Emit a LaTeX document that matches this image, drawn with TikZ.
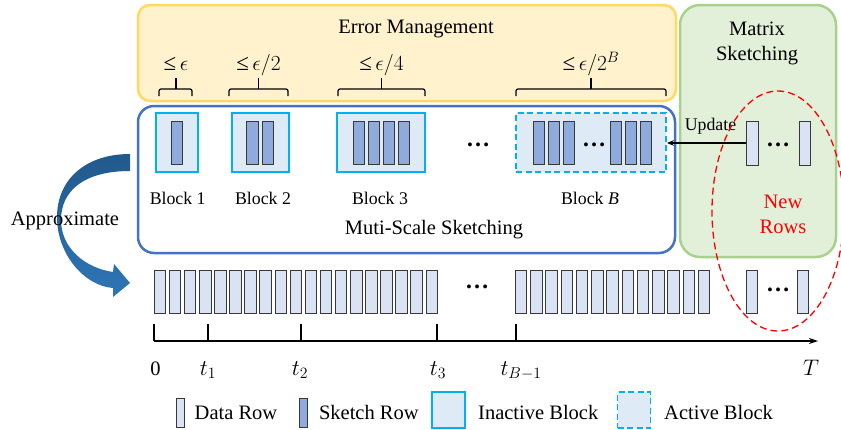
\RequirePackage{fix-cm}
\documentclass[tikz,border=0pt]{standalone}
\usepackage{fontspec}
\setmainfont{Liberation Serif}
\usetikzlibrary{arrows.meta,shapes.geometric}
\definecolor{ybox}{HTML}{FFF2CC}
\definecolor{yline}{HTML}{FFD966}
\definecolor{gbox}{HTML}{E2F0D9}
\definecolor{gline}{HTML}{A9D18E}
\definecolor{bline}{HTML}{4472C4}
\definecolor{cyanline}{HTML}{00B0F0}
\definecolor{blkfill}{HTML}{DEEBF7}
\definecolor{sketchfill}{HTML}{8FAADC}
\definecolor{datafill}{HTML}{DAE3F3}
\definecolor{rowline}{HTML}{383838}
\definecolor{arrowdark}{RGB}{33,89,140}
\definecolor{arrowlight}{RGB}{46,117,182}
\tikzset{
  container/.style={line width=2.5pt, inner sep=0pt},
  blockbox/.style={draw=cyanline, fill=blkfill, line width=1.8pt, inner sep=0pt, minimum height=59pt},
  activebox/.style={blockbox, dash pattern=on 6pt off 3.5pt},
  sketchrow/.style={draw=rowline, fill=sketchfill, line width=1pt, inner sep=0pt, minimum width=11.5pt, minimum height=43pt},
  datarow/.style={draw=rowline, fill=datafill, line width=1pt, inner sep=0pt, minimum width=11.5pt, minimum height=43pt},
  lbl/.style={font=\fontsize{17.8}{21}\selectfont, inner sep=0pt},
  big/.style={font=\fontsize{20.5}{25}\selectfont, inner sep=0pt},
  mathlbl/.style={font=\fontsize{21.5}{24}\selectfont, inner sep=0pt},
  timelbl/.style={font=\fontsize{22.5}{25}\selectfont, inner sep=0pt},
  dotsty/.style={font=\fontsize{24}{26}\selectfont\bfseries, inner sep=0pt},
  bracey/.style={line width=1.2pt, rounded corners=2pt},
  tick/.style={line width=1.5pt}
}
\newcommand{\bigle}{{\fontsize{23}{25}\selectfont ≤}}
\begin{document}
\begin{tikzpicture}[x=1pt,y=-1pt]
\useasboundingbox (0,0) rectangle (841,429);
% containers
\node[container, draw=yline, fill=ybox, rounded corners=12pt, minimum width=538pt, minimum height=96pt] (err) at (407,53) {};
\node[container, draw=gline, fill=gbox, rounded corners=20pt, minimum width=156pt, minimum height=252pt] (mat) at (758,131) {};
\node[container, draw=bline, fill=white, rounded corners=16pt, minimum width=537pt, minimum height=147pt] (multi) at (406.5,179.5) {};
% titles
\node[big, anchor=base] (errt) at (416,33.5) {Error Management};
\node[big, align=center, anchor=north] (matt) at (757,21.5) {Matrix\\Sketching};
\node[big, anchor=base] (multit) at (434,234) {Muti-Scale Sketching};
% braces
\draw[bracey] (159,96) -- (159,89) -- (192,89) -- (192,96); \draw[bracey] (176,89) -- (176,78);
\draw[bracey] (229,96) -- (229,89) -- (288,89) -- (288,96); \draw[bracey] (258.5,89) -- (258.5,78);
\draw[bracey] (338,96) -- (338,89) -- (425,89) -- (425,96); \draw[bracey] (381.5,89) -- (381.5,78);
\draw[bracey] (516,96) -- (516,89) -- (666,89) -- (666,96); \draw[bracey] (591,89) -- (591,78);
\node[mathlbl, anchor=base] (e1) at (176,70) {\bigle\,$\epsilon$};
\node[mathlbl, anchor=base] (e2) at (258.5,70) {\bigle\,$\epsilon/2$};
\node[mathlbl, anchor=base] (e3) at (381.5,70) {\bigle\,$\epsilon/4$};
\node[mathlbl, anchor=base] (e4) at (591,70) {\bigle\,$\epsilon/2^B$};
% blocks
\node[blockbox, minimum width=42pt] (b1) at (177,142.5) {};
\node[sketchrow] (b1r1) at (177,142.5) {};
\node[blockbox, minimum width=57pt] (b2) at (260.5,142.5) {};
\foreach \x [count=\i] in {252.5,268} \node[sketchrow] (b2r\i) at (\x,142.5) {};
\node[blockbox, minimum width=88pt] (b3) at (381,142.5) {};
\foreach \x [count=\i] in {359,374,389,404} \node[sketchrow] (b3r\i) at (\x,142.5) {};
\node[dotsty] (dmid) at (478,145) {…};
\node[activebox, minimum width=150pt] (bB) at (591,142.5) {};
\foreach \x [count=\i] in {539,554,569,616,631,646} \node[sketchrow] (bBr\i) at (\x,142.5) {};
\node[dotsty] (dB) at (594,145) {…};
\node[lbl, anchor=base] (b1l) at (177.7,204) {Block 1};
\node[lbl, anchor=base] (b2l) at (263,204) {Block 2};
\node[lbl, anchor=base] (b3l) at (380,204) {Block 3};
\node[lbl, anchor=base] (bBl) at (590,204) {Block \textit{B}};
% new rows
\node[datarow, minimum height=44pt] (nr1) at (752.5,143) {};
\node[dotsty] (dnr) at (778,145) {…};
\node[datarow, minimum height=44pt] (nr2) at (805,143) {};
\draw[line width=1.2pt, -{Stealth[length=7pt,width=5.5pt]}] (nr1.west) -- (nr1.west -| bB.east);
\node[lbl, anchor=base] (upd) at (710.5,130) {Update};
\node[big, align=center, anchor=north, text=red] (newt) at (783,194.5) {New\\Rows};
% data rows
\foreach \i in {0,...,18} \node[datarow] (dl\i) at ({160+15.1*\i},291.5) {};
\node[dotsty] (ddata) at (477,287) {…};
\foreach \i in {0,...,12} \node[datarow] (dr\i) at ({521+15.25*\i},291.5) {};
\node[datarow] (nb1) at (752,291.5) {};
\node[dotsty] (dnb) at (778,290) {…};
\node[datarow] (nb2) at (803,291.5) {};
% timeline
\coordinate (t0) at (154,341);
\coordinate (tend) at (818,341);
\draw[tick, -{Stealth[length=9pt,width=6pt]}] (t0) -- (tend);
\foreach \x in {154,208,301,437,516} \draw[tick] (\x,324) -- (\x,341);
\node[big, anchor=base] (l0) at (155.5,375) {0};
\node[timelbl, anchor=base] (l1) at (208,375) {$t_1$};
\node[timelbl, anchor=base] (l2) at (300,375) {$t_2$};
\node[timelbl, anchor=base] (l3) at (438,375) {$t_3$};
\node[timelbl, anchor=base] (lB) at (521,375) {$t_{B-1}$};
\node[timelbl, anchor=base] (lT) at (811,375) {$T$};
% approximate arrow
\shade[top color=arrowdark, bottom color=arrowlight] (130,154) .. controls (85,154) and (57,180) .. (57,217) .. controls (57,255) and (85,286) .. (113,288) -- (113,297) -- (130,283) -- (114,264) -- (113,272) .. controls (85,268) and (61,248) .. (61,220) .. controls (61,190) and (85,171) .. (130,171) -- cycle;
\node[big, anchor=base] (appr) at (65,225) {Approximate};
% red ellipse
\node[draw=red, ellipse, line width=1.3pt, dash pattern=on 7pt off 4pt, minimum width=132pt, minimum height=240pt, inner sep=0pt] (newell) at (778,211) {};
% legend
\node[datarow, minimum width=8pt, minimum height=29pt] (lg1) at (180.7,412.5) {};
\node[big, anchor=base west] (lg1t) at (194.5,419) {Data Row};
\node[sketchrow, minimum width=8pt, minimum height=29pt] (lg2) at (303.6,412.5) {};
\node[big, anchor=base west] (lg2t) at (318.8,419) {Sketch Row};
\node[blockbox, minimum width=33pt, minimum height=36pt] (lg3) at (448.5,410) {};
\node[big, anchor=base west] (lg3t) at (478,419) {Inactive Block};
\node[activebox, minimum width=33pt, minimum height=36pt] (lg4) at (634,410) {};
\node[big, anchor=base west] (lg4t) at (664,419) {Active Block};
\end{tikzpicture}
\end{document}
